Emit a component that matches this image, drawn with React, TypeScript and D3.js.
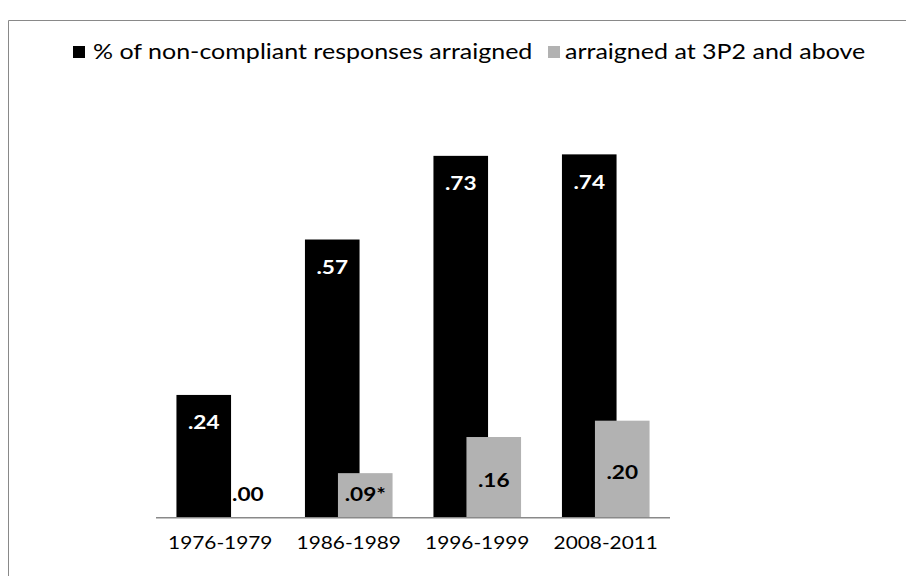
import React from "react";
import * as d3 from "d3";

const categories = ["1976-1979", "1986-1989", "1996-1999", "2008-2011"];
const seriesNames = ["% of non-compliant responses arraigned", "arraigned at 3P2 and above"];
const arraigned = [0.248, 0.562, 0.731, 0.734];
const arraignedHigh = [0.0, 0.09, 0.163, 0.196];
const arraignedLabels = [".24", ".57", ".73", ".74"];
const arraignedHighLabels = [".00", ".09*", ".16", ".20"];

const W = 906;
const H = 576;
const FONT = "Lato, 'Open Sans', sans-serif";

function T(props: {
  x: number;
  y: number;
  anchor?: "start" | "middle" | "end";
  size: number;
  sx: number;
  bold?: boolean;
  fill?: string;
  children: React.ReactNode;
}) {
  return (
    <text
      transform={`translate(${props.x},${props.y}) scale(${props.sx},1)`}
      textAnchor={props.anchor || "start"}
      fontFamily={FONT}
      fontSize={props.size}
      fontWeight={props.bold ? "bold" : "normal"}
      fill={props.fill || "#000"}
    >
      {props.children}
    </text>
  );
}

export default function App() {
  const plotLeft = 156;
  const plotRight = 670;
  const baseY = 517.7;

  const x = d3.scaleBand<string>().domain(categories).range([plotLeft, plotRight]).paddingInner(0).paddingOuter(0);
  const y = d3.scaleLinear().domain([0, 0.8]).range([baseY, baseY - 396]);

  const bw = 54.6;
  const offset = 33;
  const groupW = offset + bw;

  return (
    <svg width={W} height={H} style={{ position: "absolute", left: 0, top: 0 }}>
      <rect x={0} y={0} width={W} height={H} fill="#fff" />
      <path d={`M8.5,${H + 5} V20.5 H${W + 5}`} fill="none" stroke="#898989" strokeWidth={1} />
      {/* legend */}
      <rect x={73} y={46} width={12} height={12} fill="#000" />
      <T x={93} y={59} size={20.5} sx={1.22}>{seriesNames[0]}</T>
      <rect x={548} y={46} width={12} height={12} fill="#b2b2b2" />
      <T x={565} y={59} size={20.5} sx={1.22}>{seriesNames[1]}</T>
      {/* bars */}
      {categories.map((c, i) => {
        const gx = (x(c) as number) + (x.bandwidth() - groupW) / 2;
        return (
          <g key={c}>
            <rect x={gx} y={y(arraigned[i])} width={bw} height={baseY - y(arraigned[i])} fill="#000" />
            <rect x={gx + offset} y={y(arraignedHigh[i])} width={bw} height={baseY - y(arraignedHigh[i])} fill="#b2b2b2" />
          </g>
        );
      })}
      {/* axis */}
      <line x1={plotLeft} x2={plotRight} y1={baseY} y2={baseY} stroke="#898989" strokeWidth={1.5} />
      {/* category labels */}
      {categories.map((c) => (
        <T key={c} x={(x(c) as number) + x.bandwidth() / 2} y={548.5} anchor="middle" size={17.5} sx={1.19}>{c}</T>
      ))}
      {/* data labels */}
      {categories.map((c, i) => {
        const gx = (x(c) as number) + (x.bandwidth() - groupW) / 2;
        const yt = y(arraigned[i]);
        const yg = y(arraignedHigh[i]);
        const zero = arraignedHigh[i] === 0;
        return (
          <g key={c}>
            <T x={gx + bw / 2} y={yt + 34.5} anchor="middle" size={19} sx={1.19} bold fill="#fff">{arraignedLabels[i]}</T>
            {zero ? (
              <T x={gx + bw + 1} y={baseY - 17} anchor="start" size={19} sx={1.19} bold>{arraignedHighLabels[i]}</T>
            ) : (
              <T x={gx + offset + bw / 2} y={Math.min((yg + baseY) / 2 + 10, baseY - 17)} anchor="middle" size={19} sx={1.19} bold>{arraignedHighLabels[i]}</T>
            )}
          </g>
        );
      })}
    </svg>
  );
}
